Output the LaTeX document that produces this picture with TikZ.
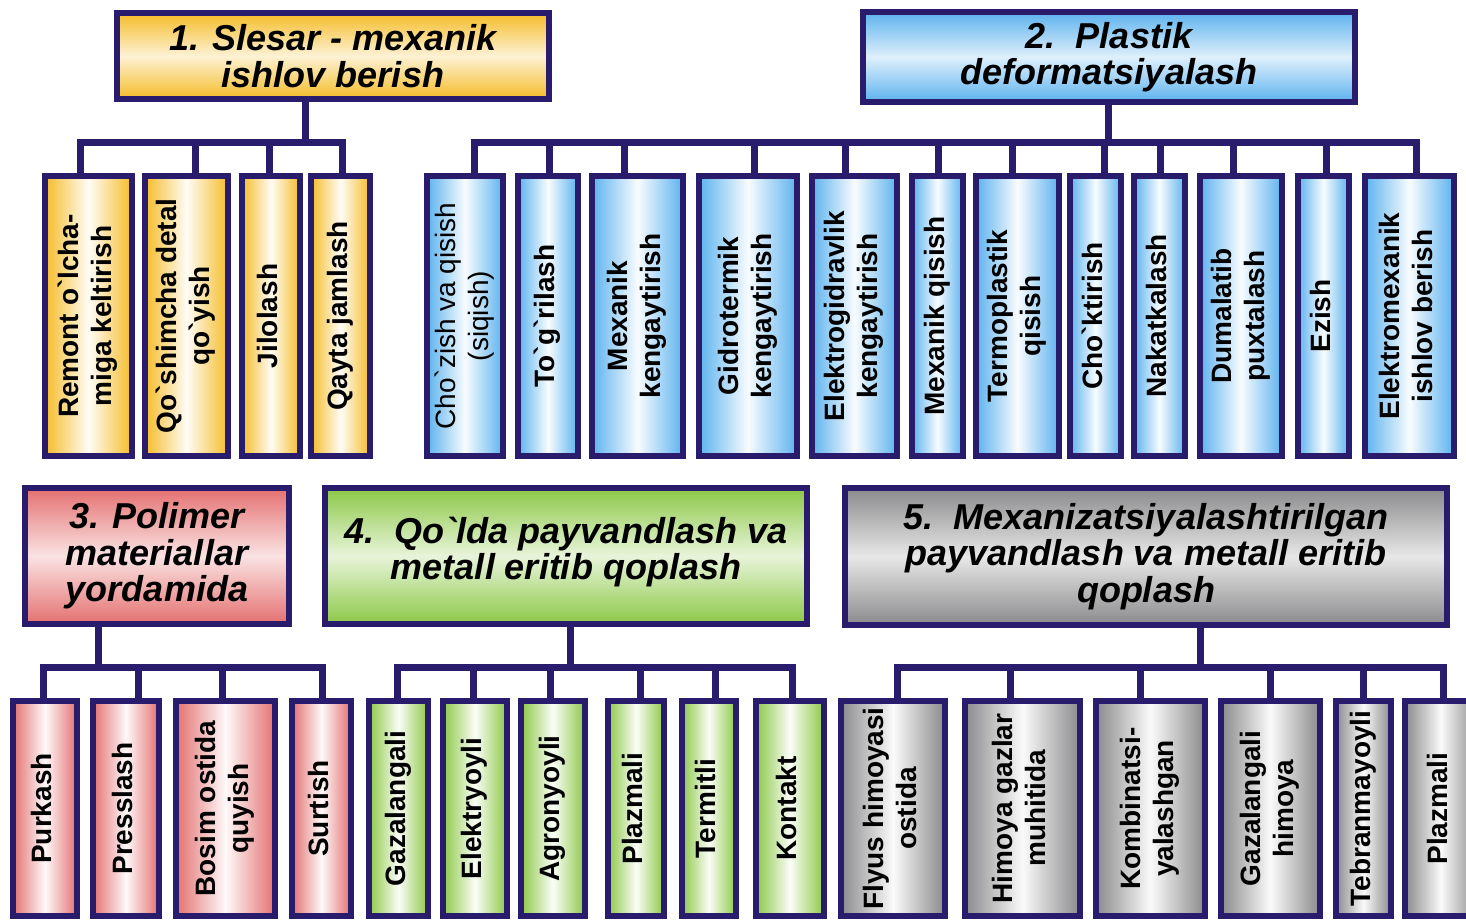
\documentclass[tikz,border=0pt]{standalone}
\usepackage{fontspec}
\usepackage{graphicx}
\newfontfamily\lsans{Liberation Sans}

\definecolor{navy}{RGB}{42,28,108}
\definecolor{gold}{RGB}{245,188,40}
\definecolor{sky}{RGB}{92,178,238}
\definecolor{rose}{RGB}{228,112,112}
\definecolor{grass}{RGB}{140,200,70}
\definecolor{steel}{RGB}{138,138,140}

\newcommand{\headfont}{\lsans\bfseries\itshape\fontsize{36}{36.5}\selectfont}
\newcommand{\leaffont}{\lsans\bfseries\fontsize{28}{33}\selectfont}
\newcommand{\vlab}[1]{\rotatebox{90}{\begin{tabular}{@{}c@{}}#1\end{tabular}}}

\tikzset{
  head/.style={draw=navy, line width=6pt, inner sep=0pt, align=center,
    top color=#1, bottom color=#1, middle color=#1!20!white, font=\headfont},
  leaf/.style={draw=navy, line width=6pt, inner sep=0pt,
    left color=#1, right color=#1, middle color=#1!4!white, font=\leaffont},
  tall/.style={leaf=#1, minimum height=280pt},
  short/.style={leaf=#1, minimum height=215pt},
  link/.style={draw=navy, line width=7pt}
}

\begin{document}
\begin{tikzpicture}[x=1pt, y=-1pt]
\useasboundingbox (0,0) rectangle (1466,919);

% group headers
\node[head=gold, minimum width=432pt, minimum height=86pt] (h1) at (333,56) {1. Slesar - mexanik\\ishlov berish};
\node[head=sky, minimum width=492pt, minimum height=90pt] (h2) at (1109,57) {2.\ \ Plastik\\deformatsiyalash};
\node[head=rose, minimum width=264pt, minimum height=136pt] (h3) at (157,556) {3. Polimer\\materiallar\\yordamida};
\node[head=grass, minimum width=482pt, minimum height=136pt] (h4) at (566,556) {4.\ \ Qo`lda payvandlash va\\metall eritib qoplash\\[-21.5pt]};
\node[head=steel, minimum width=602pt, minimum height=137pt] (h5) at (1146,556.5) {5.\ \ Mexanizatsiyalashtirilgan\\payvandlash va metall eritib\\qoplash};

% upper row
\node[tall=gold, minimum width=87pt] (c11) at (88.5,316) {\vlab{Remont o`lcha-\\miga keltirish}};
\node[tall=gold, minimum width=83pt] (c12) at (186.5,316) {\vlab{Qo`shimcha detal\\qo`yish}};
\node[tall=gold, minimum width=58pt] (c13) at (271,316) {\vlab{Jilolash}};
\node[tall=gold, minimum width=59pt] (c14) at (340.5,316) {\vlab{Qayta jamlash}};

\node[tall=sky, minimum width=76pt] (c21) at (465,316) {\vlab{\mdseries Cho`zish va qisish\\\mdseries (siqish)}};
\node[tall=sky, minimum width=60pt] (c22) at (548,316) {\vlab{To`g`rilash}};
\node[tall=sky, minimum width=91pt] (c23) at (637.5,316) {\vlab{Mexanik\\kengaytirish}};
\node[tall=sky, minimum width=98pt] (c24) at (748,316) {\vlab{Gidrotermik\\kengaytirish}};
\node[tall=sky, minimum width=85pt] (c25) at (854.5,316) {\vlab{Elektrogidravlik\\kengaytirish}};
\node[tall=sky, minimum width=51pt] (c26) at (937.5,316) {\vlab{Mexanik qisish}};
\node[tall=sky, minimum width=83pt] (c27) at (1017.5,316) {\vlab{Termoplastik\\qisish}};
\node[tall=sky, minimum width=51pt] (c28) at (1095.5,316) {\vlab{Cho`ktirish}};
\node[tall=sky, minimum width=51pt] (c29) at (1159.5,316) {\vlab{Nakatkalash}};
\node[tall=sky, minimum width=82pt] (c210) at (1241,316) {\vlab{Dumalatib\\puxtalash}};
\node[tall=sky, minimum width=51pt] (c211) at (1323.5,316) {\vlab{Ezish}};
\node[tall=sky, minimum width=89pt] (c212) at (1409.5,316) {\vlab{Elektromexanik\\ishlov berish}};

% lower row
\node[short=rose, minimum width=64pt] (c31) at (45,808.5) {\vlab{Purkash}};
\node[short=rose, minimum width=66pt] (c32) at (126,808.5) {\vlab{Presslash}};
\node[short=rose, minimum width=99pt] (c33) at (225.5,808.5) {\vlab{Bosim ostida\\quyish}};
\node[short=rose, minimum width=59pt] (c34) at (321.5,808.5) {\vlab{Surtish}};

\node[short=grass, minimum width=59pt] (c41) at (398.5,808.5) {\vlab{Gazalangali}};
\node[short=grass, minimum width=64pt] (c42) at (475,808.5) {\vlab{Elektryoyli}};
\node[short=grass, minimum width=64pt] (c43) at (553,808.5) {\vlab{Agronyoyli}};
\node[short=grass, minimum width=56pt] (c44) at (636,808.5) {\vlab{Plazmali}};
\node[short=grass, minimum width=54pt] (c45) at (709,808.5) {\vlab{Termitli}};
\node[short=grass, minimum width=68pt] (c46) at (790,808.5) {\vlab{Kontakt}};

\node[short=steel, minimum width=104pt] (c51) at (893,808.5) {\vlab{Flyus himoyasi\\ostida}};
\node[short=steel, minimum width=115pt] (c52) at (1022.5,808.5) {\vlab{Himoya gazlar\\muhitida}};
\node[short=steel, minimum width=109pt] (c53) at (1150.5,808.5) {\vlab{Kombinatsi-\\yalashgan}};
\node[short=steel, minimum width=99pt] (c54) at (1270.5,808.5) {\vlab{Gazalangali\\himoya}};
\node[short=steel, minimum width=55pt] (c55) at (1363.5,808.5) {\vlab{Tebranmayoyli}};
\node[short=steel, minimum width=72pt] (c56) at (1441,808.5) {\vlab{Plazmali}};

% stems under the headers
\coordinate (s1) at (305,0 |- h1.south);
\coordinate (s2) at (1108,0 |- h2.south);
\coordinate (s3) at (98,0 |- h3.south);
\coordinate (s4) at (570,0 |- h4.south);
\coordinate (s5) at (1200,0 |- h5.south);

% connectors
\foreach \c/\x in {c11/80, c12/195, c13/269, c14/342}
  \draw[link] (s1) |- (\x,142) -- (\c.north -| \x,0);
\foreach \c/\x in {c21/474, c22/549, c23/624, c24/754, c25/845, c26/938,
                   c27/1012, c28/1104, c29/1160, c210/1233, c211/1326, c212/1416}
  \draw[link] (s2) |- (\x,142) -- (\c.north -| \x,0);
\foreach \c/\x in {c31/43, c32/138, c33/222, c34/322}
  \draw[link] (s3) |- (\x,667) -- (\c.north -| \x,0);
\foreach \c/\x in {c41/397, c42/473, c43/550, c44/640, c45/715, c46/792}
  \draw[link] (s4) |- (\x,667) -- (\c.north -| \x,0);
\foreach \c/\x in {c51/897, c52/1010, c53/1140, c54/1270, c55/1363, c56/1443}
  \draw[link] (s5) |- (\x,667) -- (\c.north -| \x,0);
\end{tikzpicture}
\end{document}
